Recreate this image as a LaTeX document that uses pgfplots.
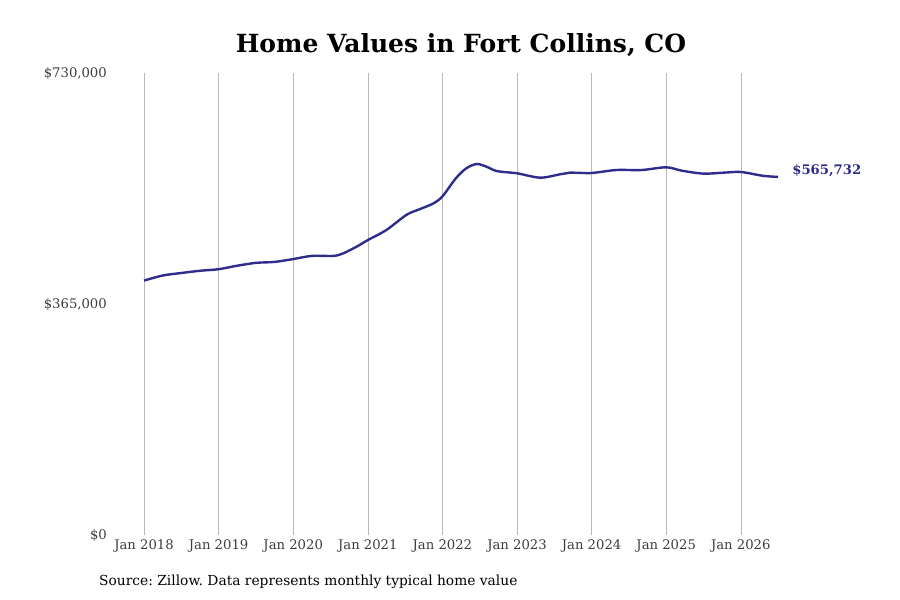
\documentclass[border=0pt]{standalone}
\usepackage{pgfplots}
\pgfplotsset{compat=1.18}
\usepackage{fontspec}
\setmainfont{DejaVu Serif}
\definecolor{linec}{RGB}{46,45,140}
\definecolor{tickc}{RGB}{60,60,60}
\frenchspacing
\begin{document}
\begin{tikzpicture}[x=1pt,y=1pt]
\useasboundingbox (0,0) rectangle (900,600);
\begin{axis}[
  at={(110pt,65pt)}, anchor=south west,
  scale only axis, width=705.4pt, height=462pt,
  xmin=2017.544, xmax=2027, ymin=0, ymax=730000,
  xtick={2018,2019,2020,2021,2022,2023,2024,2025,2026},
  xticklabels={Jan 2018,Jan 2019,Jan 2020,Jan 2021,Jan 2022,Jan 2023,Jan 2024,Jan 2025,Jan 2026},
  ytick={0,365000,730000},
  yticklabels={{\$0},{\$365,000},{\$730,000}},
  scaled y ticks=false,
  xmajorgrids, grid style={draw=black!28, line width=0.6pt},
  axis line style={draw=none},
  major tick length=0pt,
  tick label style={font=\fontsize{13.2}{15}\selectfont, text=tickc},
  yticklabel style={inner sep=3pt},
  xticklabel style={inner sep=5pt},
  clip=false,
]
\addplot[linec, line width=2.4pt, smooth, tension=0.5] coordinates {
(2018.00,402000) (2018.25,410000) (2018.50,414000) (2018.75,417500)
(2019.00,420000) (2019.25,425500) (2019.50,430000) (2019.75,431500)
(2020.00,436000) (2020.25,441000) (2020.54,441000) (2020.67,445000)
(2020.85,455600) (2021.00,466000) (2021.25,482000) (2021.52,506000)
(2021.70,515000) (2021.88,524000) (2022.00,535000) (2022.18,563600)
(2022.32,579400) (2022.46,586200) (2022.59,582000) (2022.73,575000)
(2023.00,571500) (2023.31,564600) (2023.58,570000) (2023.71,572500)
(2024.00,572000) (2024.33,576700) (2024.67,576700) (2025.00,581000)
(2025.21,575600) (2025.50,571000) (2025.77,572500) (2026.00,573600)
(2026.29,567700) (2026.50,565732)
};
\node[anchor=west, text=linec, font=\fontsize{13.2}{15}\selectfont\bfseries, inner sep=0pt] at (axis cs:2026.5,575700) [xshift=14pt] {\$565,732};
\end{axis}
\node[font=\fontsize{25}{30}\selectfont\bfseries] at (461,555) {Home Values in Fort Collins, CO};
\node[anchor=west, font=\fontsize{13.8}{16}\selectfont, inner sep=0pt] at (99,18) {Source: Zillow. Data represents monthly typical home value};
\end{tikzpicture}
\end{document}
